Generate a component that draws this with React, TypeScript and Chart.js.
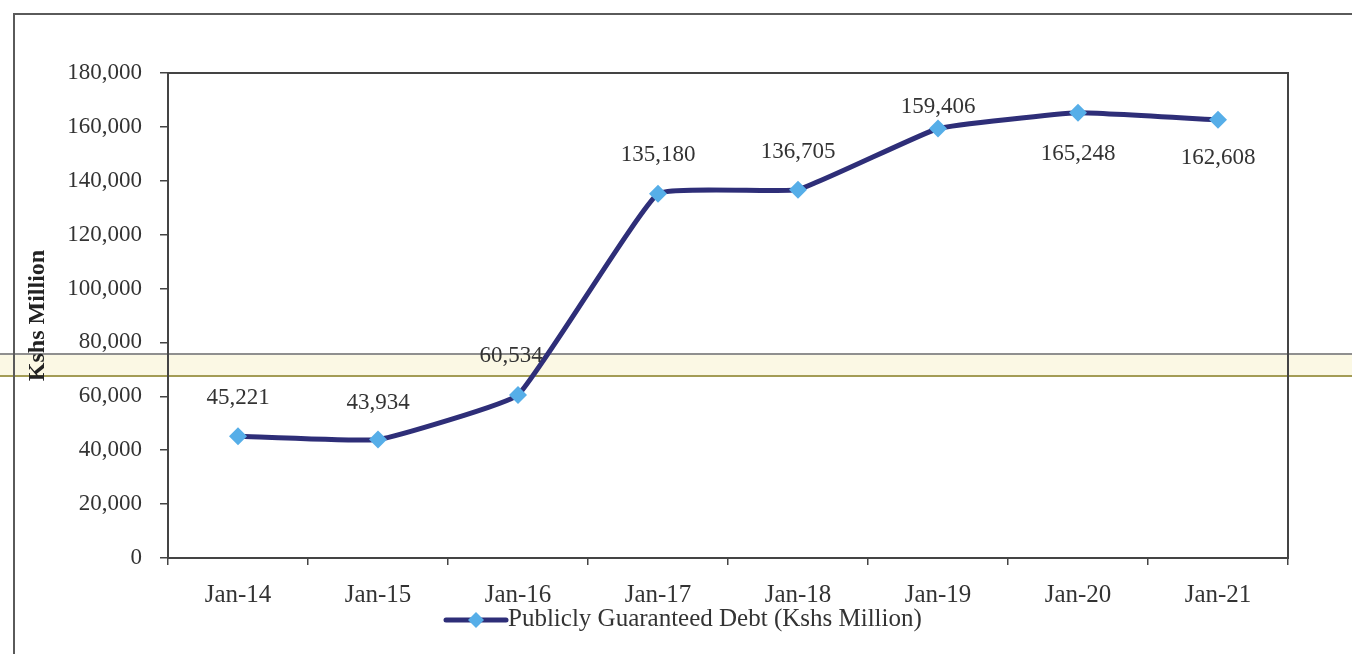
import React, { useEffect, useRef } from 'react';
import { Chart, registerables } from 'chart.js';

Chart.register(...registerables);

// ---- data ----
const categories = ['Jan-14', 'Jan-15', 'Jan-16', 'Jan-17', 'Jan-18', 'Jan-19', 'Jan-20', 'Jan-21'];
const guaranteedDebt = [45221, 43934, 60534, 135180, 136705, 159406, 165248, 162608];
const seriesLabel = 'Publicly Guaranteed Debt (Kshs Million)';
const yAxisTitle = 'Kshs Million';
const yMin = 0;
const yMax = 180000;
const yStep = 20000;

const SERIF = "'Liberation Serif', 'Times New Roman', serif";
const LINE_COLOR = '#2e2e78';
const MARKER_COLOR = '#56aee8';
const TEXT_COLOR = '#333333';

const backdropPlugin = {
  id: 'backdrop',
  beforeDraw(chart: any) {
    const { ctx, width, height } = chart;
    ctx.save();
    ctx.fillStyle = '#ffffff';
    ctx.fillRect(0, 0, width, height);
    // scanned band
    ctx.fillStyle = '#fbf8e4';
    ctx.fillRect(0, 354, width, 22);
    ctx.lineWidth = 2;
    ctx.strokeStyle = '#8f8f8f';
    ctx.beginPath();
    ctx.moveTo(0, 354);
    ctx.lineTo(width, 354);
    ctx.stroke();
    ctx.strokeStyle = '#a39c55';
    ctx.beginPath();
    ctx.moveTo(0, 376);
    ctx.lineTo(width, 376);
    ctx.stroke();
    // outer frame
    ctx.strokeStyle = '#5a5a5a';
    ctx.lineWidth = 2;
    ctx.beginPath();
    ctx.moveTo(14, height);
    ctx.lineTo(14, 14);
    ctx.lineTo(width, 14);
    ctx.stroke();
    ctx.restore();
  },
  beforeDatasetsDraw(chart: any) {
    const { ctx, chartArea } = chart;
    ctx.save();
    ctx.strokeStyle = '#444444';
    ctx.lineWidth = 2;
    ctx.strokeRect(chartArea.left, chartArea.top, chartArea.right - chartArea.left, chartArea.bottom - chartArea.top);
    ctx.restore();
  },
};

const pointLabelPlugin = {
  id: 'pointValueLabels',
  afterDatasetsDraw(chart: any, _args: any, opts: any) {
    const meta = chart.getDatasetMeta(0);
    const values = chart.data.datasets[0].data as number[];
    const ctx = chart.ctx;
    ctx.save();
    ctx.font = `${opts.size}px ${SERIF}`;
    ctx.fillStyle = TEXT_COLOR;
    ctx.textAlign = 'center';
    ctx.textBaseline = 'middle';
    meta.data.forEach((pt: any, i: number) => {
      const off = (opts.offsets && opts.offsets[i]) || { dx: 0, dy: -38 };
      ctx.fillText(Number(values[i]).toLocaleString('en-US'), pt.x + off.dx, pt.y + off.dy);
    });
    ctx.restore();
  },
};

const legendPlugin = {
  id: 'lineLegend',
  afterDraw(chart: any, _args: any, opts: any) {
    const ctx = chart.ctx;
    const ds = chart.data.datasets[0];
    ctx.save();
    ctx.strokeStyle = ds.borderColor;
    ctx.lineWidth = 5;
    ctx.lineCap = 'round';
    ctx.beginPath();
    ctx.moveTo(opts.x, opts.y);
    ctx.lineTo(opts.x + opts.lineLength, opts.y);
    ctx.stroke();
    const cx = opts.x + opts.lineLength / 2;
    const r = 8;
    ctx.fillStyle = ds.pointBackgroundColor;
    ctx.beginPath();
    ctx.moveTo(cx, opts.y - r);
    ctx.lineTo(cx + r, opts.y);
    ctx.lineTo(cx, opts.y + r);
    ctx.lineTo(cx - r, opts.y);
    ctx.closePath();
    ctx.fill();
    ctx.font = `${opts.size}px ${SERIF}`;
    ctx.fillStyle = TEXT_COLOR;
    ctx.textAlign = 'left';
    ctx.textBaseline = 'middle';
    ctx.fillText(ds.label, opts.x + opts.lineLength + 2, opts.y - 1);
    ctx.restore();
  },
};

export default function App() {
  const canvasRef = useRef<HTMLCanvasElement | null>(null);

  useEffect(() => {
    if (!canvasRef.current) return;
    const chart = new Chart(canvasRef.current, {
      type: 'line',
      data: {
        labels: categories,
        datasets: [
          {
            label: seriesLabel,
            data: guaranteedDebt,
            borderColor: LINE_COLOR,
            borderWidth: 5,
            tension: 0.1,
            pointStyle: 'rectRot',
            pointRadius: 9,
            pointBackgroundColor: MARKER_COLOR,
            pointBorderColor: MARKER_COLOR,
            pointBorderWidth: 0,
            fill: false,
          },
        ],
      },
      options: {
        animation: false,
        responsive: true,
        maintainAspectRatio: false,
        layout: { padding: { top: 73, right: 64, bottom: 36, left: 0 } },
        plugins: {
          legend: { display: false },
          tooltip: { enabled: false },
          pointValueLabels: {
            size: 23,
            offsets: [
              { dx: 0, dy: -38 },
              { dx: 0, dy: -37 },
              { dx: -7, dy: -39 },
              { dx: 0, dy: -39 },
              { dx: 0, dy: -38 },
              { dx: 0, dy: -22 },
              { dx: 0, dy: 41 },
              { dx: 0, dy: 38 },
            ],
          },
          lineLegend: { x: 446, y: 620, lineLength: 60, size: 25 },
        } as any,
        scales: {
          x: {
            offset: true,
            grid: {
              display: true,
              offset: true,
              drawOnChartArea: false,
              drawTicks: true,
              tickLength: 7,
              color: '#444444',
              lineWidth: 1.5,
            },
            border: { display: true, color: '#444444', width: 2 },
            ticks: {
              color: TEXT_COLOR,
              font: { family: SERIF, size: 25 },
              padding: 15,
              maxRotation: 0,
              autoSkip: false,
            },
            afterFit(scale: any) {
              scale.height = 60;
            },
          },
          y: {
            min: yMin,
            max: yMax,
            grid: {
              display: true,
              drawOnChartArea: false,
              drawTicks: true,
              tickLength: 8,
              color: '#444444',
              lineWidth: 1.5,
            },
            border: { display: true, color: '#444444', width: 2 },
            ticks: {
              stepSize: yStep,
              color: TEXT_COLOR,
              font: { family: SERIF, size: 23 },
              padding: 18,
              callback: (v: any) => Number(v).toLocaleString('en-US'),
            },
            title: {
              display: true,
              text: yAxisTitle,
              color: '#222222',
              font: { family: SERIF, size: 24, weight: 'bold' },
              padding: { top: 23, bottom: 0 },
            },
            afterFit(scale: any) {
              scale.width = 168;
            },
          },
        },
      },
      plugins: [backdropPlugin, pointLabelPlugin, legendPlugin],
    });
    return () => chart.destroy();
  }, []);

  return (
    <div style={{ position: 'fixed', left: 0, top: 0, width: 1352, height: 654, background: '#ffffff' }}>
      <canvas ref={canvasRef} />
    </div>
  );
}
